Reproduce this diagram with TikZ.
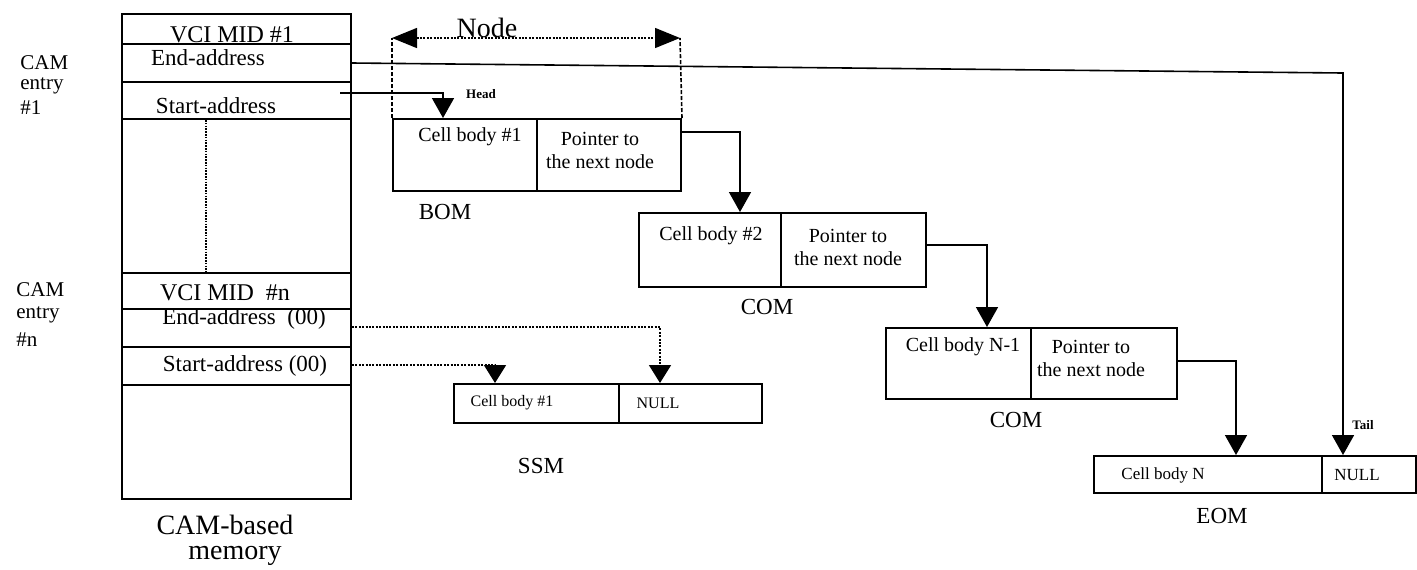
\documentclass[tikz,border=0pt]{standalone}
\usepackage{fontspec}
\setmainfont{Liberation Serif}
\usetikzlibrary{arrows.meta}
\begin{document}
\begin{tikzpicture}[x=0.5pt,y=-0.5pt,
  cellbox/.style={draw,line width=1pt,inner sep=0pt,anchor=north west},
  conn/.style={line width=0.8pt},
  tipped/.style={-{Triangle[length=10pt,width=11pt]}},
  dotconn/.style={line width=0.8pt,dash pattern=on 1pt off 0.7pt},
  memtxt/.style={font=\fontsize{11.5}{13}\selectfont,inner sep=0pt},
  celltxt/.style={font=\fontsize{10}{11.5}\selectfont,inner sep=0pt,align=center},
  smalltxt/.style={font=\fontsize{8}{9}\selectfont,inner sep=0pt},
  caption/.style={font=\fontsize{11.5}{13}\selectfont,inner sep=0pt},
  sidetxt/.style={font=\fontsize{10.5}{12}\selectfont,inner sep=0pt,anchor=west},
  tag/.style={font=\bfseries\fontsize{6.5}{7}\selectfont,inner sep=0pt},
]
\useasboundingbox (0,0) rectangle (1417,569);

% ---------- CAM-based memory ----------
\node[cellbox,minimum width=114.5pt,minimum height=242.5pt] (mem) at (121,13) {};
\node[cellbox,minimum width=114.5pt,minimum height=15pt]   (vci1)   at (121,13)  {};
\node[cellbox,minimum width=114.5pt,minimum height=19pt]   (end1)   at (121,43)  {};
\node[cellbox,minimum width=114.5pt,minimum height=18.5pt] (start1) at (121,81)  {};
\node[cellbox,minimum width=114.5pt,minimum height=18pt]   (vcin)   at (121,272) {};
\node[cellbox,minimum width=114.5pt,minimum height=19pt]   (endn)   at (121,308) {};
\node[cellbox,minimum width=114.5pt,minimum height=19pt]   (startn) at (121,346) {};

\node[memtxt,font=\fontsize{12}{13}\selectfont,anchor=base] (tv1) at (232,42) {VCI MID \#1};
\node[memtxt] (te1) at (208,58) {End-address};
\node[memtxt] (ts1) at (216,106) {Start-address};
\node[memtxt,font=\fontsize{12}{13}\selectfont] (tvn) at (225,293) {VCI MID\ \ \#n};
\node[memtxt] (ten) at (244,319) {End-address\ \ (00)};
\node[memtxt] (tsn) at (245,366) {Start-address (00)};

\coordinate (gap) at (206,0);
\draw[line width=0.7pt,dash pattern=on 0.8pt off 0.6pt] (start1.south -| gap) -- (vcin.north -| gap);

\node[sidetxt] (c1a) at (20,63)  {CAM};
\node[sidetxt] (c1b) at (20,86)  {entry};
\node[sidetxt] (c1c) at (20,108) {\#1};
\node[sidetxt] (cna) at (16,290) {CAM};
\node[sidetxt] (cnb) at (16,315) {entry};
\node[sidetxt] (cnc) at (16,340) {\#n};

\node[caption,font=\fontsize{14}{15}\selectfont] (capa) at (225,525) {CAM-based};
\node[caption,font=\fontsize{14}{15}\selectfont] (capb) at (235,556) {memory};

% ---------- BOM ----------
\node[cellbox,minimum width=72pt,minimum height=36pt] (bom1) at (392,118) {};
\node[cellbox,minimum width=72pt,minimum height=36pt] (bom2) at (536,118) {};
\node[celltxt] at (470,137) {Cell body \#1};
\node[celltxt] at (600,150) {Pointer to\\the next node};
\node[caption] (lbom) at (445,212) {BOM};

% node extent marker
\coordinate (nl) at (392,38);
\coordinate (nr) at (680,38);
\draw[line width=0.8pt,dash pattern=on 2pt off 1pt] (bom1.north west) -- (nl);
\draw[line width=0.8pt,dash pattern=on 2pt off 1pt] (bom2.north east) -- (nr);
\draw[line width=0.7pt,dash pattern=on 1pt off 0.7pt,
      {Triangle[length=12.5pt,width=10pt]}-{Triangle[length=12.5pt,width=10pt]}] (nl) -- (nr);
\node[inner sep=0pt,anchor=base,font=\fontsize{14}{15}\selectfont] (lnode) at (487,37) {Node};

% ---------- COM (first) ----------
\node[cellbox,minimum width=71pt,minimum height=37pt] (com1a) at (638,212) {};
\node[cellbox,minimum width=72.5pt,minimum height=37pt] (com1b) at (780,212) {};
\node[celltxt] at (711,236) {Cell body \#2};
\node[celltxt] at (848,247) {Pointer to\\the next node};
\node[caption] (lcom1) at (767,307) {COM};

% ---------- COM (second) ----------
\node[cellbox,minimum width=72.5pt,minimum height=35.5pt] (com2a) at (885,327) {};
\node[cellbox,minimum width=73pt,minimum height=35.5pt] (com2b) at (1030,327) {};
\node[celltxt] at (963,347) {Cell body N-1};
\node[celltxt] at (1091,358) {Pointer to\\the next node};
\node[caption] (lcom2) at (1016,420) {COM};

% ---------- EOM ----------
\node[cellbox,minimum width=114pt,minimum height=18.5pt] (eoma) at (1093,455) {};
\node[cellbox,minimum width=47pt,minimum height=18.5pt] (eomb) at (1321,455) {};
\node[smalltxt,font=\fontsize{8.5}{9}\selectfont] at (1163,475) {Cell body N};
\node[smalltxt,font=\fontsize{8.5}{9}\selectfont] at (1357,475) {NULL};
\node[caption] (leom) at (1222,516) {EOM};

% ---------- SSM ----------
\node[cellbox,minimum width=82.5pt,minimum height=19.5pt] (ssma) at (453,383) {};
\node[cellbox,minimum width=71.5pt,minimum height=19.5pt] (ssmb) at (618,383) {};
\node[smalltxt] at (512,403) {Cell body \#1};
\node[smalltxt] at (658,403) {NULL};
\node[caption] (lssm) at (541,466) {SSM};

% ---------- connectors ----------
% end address of entry #1 -> tail of the list
\coordinate (tailc) at (1343,73);
\draw[conn,tipped] (end1.east) -- (tailc) -- (tailc |- eomb.north);
\node[tag] (ltail) at (1363,425) {Tail};

% start address of entry #1 -> head of the list
\coordinate (hs) at (340,93);
\coordinate (hc) at (443,93);
\draw[conn,tipped] (hs) -- (hc) -- (hc |- bom1.north);
\node[tag] (lhead) at (481,94) {Head};

% next-node pointers
\coordinate (b1) at (740,132);
\draw[conn,tipped] (b1 -| bom2.east) -- (b1) -- (b1 |- com1a.north);
\coordinate (b2) at (987,245);
\draw[conn,tipped] (b2 -| com1b.east) -- (b2) -- (b2 |- com2a.north);
\coordinate (b3) at (1236,361);
\draw[conn,tipped] (b3 -| com2b.east) -- (b3) -- (b3 |- eoma.north);

% entry #n -> single segment message
\coordinate (s1) at (495,365);
\draw[dotconn,-{Triangle[length=9pt,width=11pt]}] (s1 -| startn.east) -- (s1) -- (s1 |- ssma.north);
\coordinate (s2) at (660,327);
\draw[dotconn,-{Triangle[length=9pt,width=11pt]}] (s2 -| endn.east) -- (s2) -- (s2 |- ssmb.north);

\end{tikzpicture}
\end{document}
